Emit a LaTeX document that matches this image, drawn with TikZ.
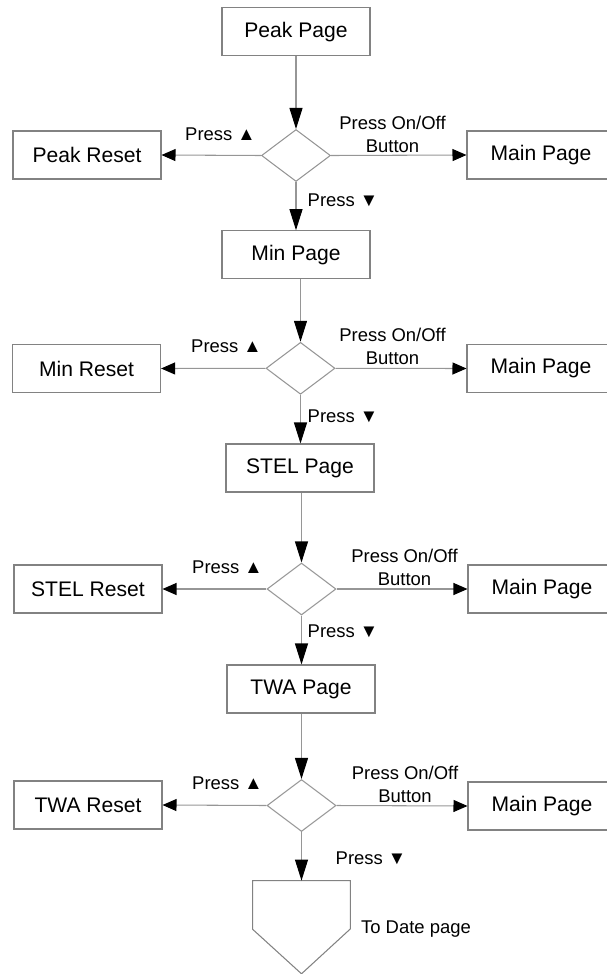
\documentclass[tikz,border=0pt]{standalone}
\usepackage{fontspec}
\setmainfont{Liberation Sans}
\usetikzlibrary{shapes.geometric}
\usetikzlibrary{arrows.meta}
\definecolor{boxgray}{RGB}{130,130,130}
\definecolor{linegray}{RGB}{150,150,150}
\tikzset{
  page/.style={draw=boxgray, line width=0.6pt, minimum width=2.96cm, minimum height=0.96cm, inner sep=0pt, font=\fontsize{12}{14}\selectfont},
  choice/.style={draw=linegray, line width=0.6pt, diamond, minimum width=1.38cm, minimum height=1.04cm, inner sep=0pt},
  lbl/.style={inner sep=0pt, align=center, font=\fontsize{10.5}{12.8}\selectfont},
  down/.style={draw=linegray, line width=0.6pt, -{Triangle[length=0.42cm, width=0.26cm, color=black]}},
  side/.style={draw=linegray, line width=0.6pt, -{Triangle[length=0.28cm, width=0.24cm, color=black]}}
}
\begin{document}
\begin{tikzpicture}[x=0.02cm, y=-0.02cm]
            \useasboundingbox (0, 0) rectangle (606, 974);
            \node[page] (peak)       at (296, 31.7)  {Peak Page};
            \node[choice] (d1)       at (296, 155.5) {};
            \node[page] (peakreset)  at (87, 155)    {Peak Reset};
            \node[page] (main1)      at (541, 155)   {Main Page};
            \node[lbl] (up1)         at (220.5, 134) {Press ▲};
            \node[lbl] (onoff1)      at (392.5, 134.5) {Press On/Off\\Button};
            \node[lbl] (dn1)         at (343, 200)   {Press ▼};
            \node[page] (min)        at (296, 254.7) {Min Page};
            \node[choice] (d2)       at (300.5, 368.3) {};
            \node[page] (minreset)   at (86.6, 368.5) {Min Reset};
            \node[page] (main2)      at (541, 368.5) {Main Page};
            \node[lbl] (up2)         at (226.5, 346.7) {Press ▲};
            \node[lbl] (onoff2)      at (392.5, 346.2) {Press On/Off\\Button};
            \node[lbl] (dn2)         at (343, 416.7) {Press ▼};
            \node[page] (stel)       at (300, 468)   {STEL Page};
            \node[choice] (d3)       at (301.5, 589) {};
            \node[page] (stelreset)  at (88, 589)    {STEL Reset};
            \node[page] (main3)      at (542, 589)   {Main Page};
            \node[lbl] (up3)         at (227.5, 567.7) {Press ▲};
            \node[lbl] (onoff3)      at (404.5, 567.5) {Press On/Off\\Button};
            \node[lbl] (dn3)         at (343, 631.7) {Press ▼};
            \node[page] (twa)        at (301, 689)   {TWA Page};
            \node[choice] (d4)       at (301.5, 805.5) {};
            \node[page] (twareset)   at (88, 805)    {TWA Reset};
            \node[page] (main4)      at (542, 806)   {Main Page};
            \node[lbl] (up4)         at (227.5, 783.3) {Press ▲};
            \node[lbl] (onoff4)      at (405, 784.2) {Press On/Off\\Button};
            \node[lbl] (dn4)         at (371, 858.3) {Press ▼};
            \node[inner sep=0pt, minimum width=1.94cm, minimum height=1.85cm] (date) at (301.5, 927.2) {};
            \node[lbl] (todate)      at (416, 929)   {To Date page};
            \draw[draw=boxgray, line width=0.6pt] (date.north west) -- (date.north east) -- ++(0, 48.3) -- (date.south) -- (date.north west |- 0, 929.3) -- cycle;
            \draw[down] (peak.south) -- (d1.north);
            \draw[side] (d1.west) -- (peakreset.east);
            \draw[side] (d1.east) -- (main1.west);
            \draw[down] (d1.south) -- (d1.south |- min.north);
            \draw[down] (d2.north |- min.south) -- (d2.north);
            \draw[side] (d2.west) -- (minreset.east);
            \draw[side] (d2.east) -- (main2.west);
            \draw[down] (d2.south) -- (d2.south |- stel.north);
            \draw[down] (d3.north |- stel.south) -- (d3.north);
            \draw[side] (d3.west) -- (stelreset.east);
            \draw[side] (d3.east) -- (main3.west);
            \draw[down] (d3.south) -- (d3.south |- twa.north);
            \draw[down] (d4.north |- twa.south) -- (d4.north);
            \draw[side] (d4.west) -- (twareset.east);
            \draw[side] (d4.east) -- (main4.west);
            \draw[down] (d4.south) -- (date.north);
        \end{tikzpicture}
\end{document}
